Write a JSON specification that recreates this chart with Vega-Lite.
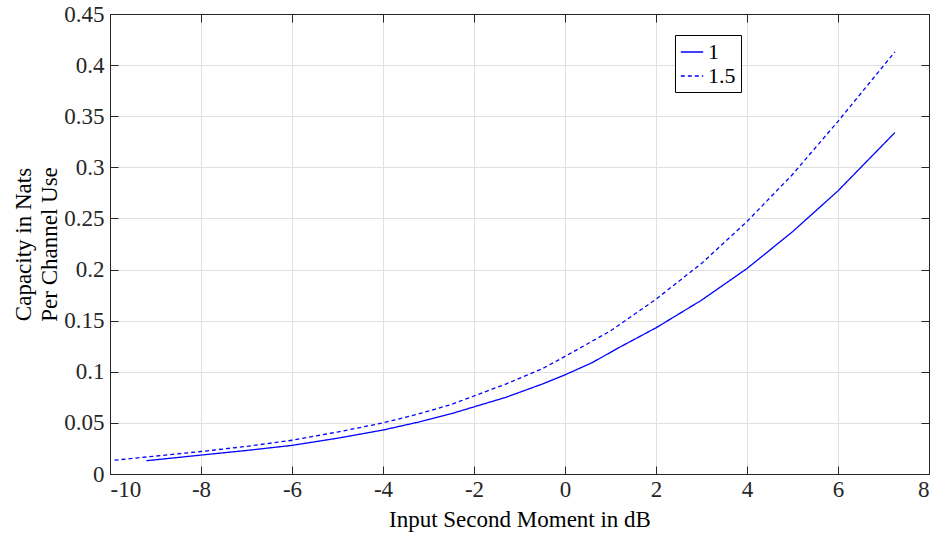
{
  "$schema": "https://vega.github.io/schema/vega-lite/v6.json",
  "width": 819,
  "height": 460,
  "autosize": {"type": "none"},
  "padding": {"left": 110, "top": 14, "right": 8, "bottom": 62},
  "background": "white",
  "config": {
    "font": "Liberation Serif",
    "view": {"stroke": "#262626", "strokeWidth": 1},
    "axis": {
      "titleFontWeight": "normal",
      "titleColor": "#000000",
      "domainColor": "#262626",
      "tickColor": "#262626",
      "gridColor": "#e0e0e0",
      "gridOpacity": 1
    }
  },
  "data": {
    "values": [
      {"x": -9.2, "y": 0.013, "s": "1"},
      {"x": -8, "y": 0.0185, "s": "1"},
      {"x": -7, "y": 0.023, "s": "1"},
      {"x": -6, "y": 0.028, "s": "1"},
      {"x": -5, "y": 0.035, "s": "1"},
      {"x": -4, "y": 0.043, "s": "1"},
      {"x": -3.2, "y": 0.051, "s": "1"},
      {"x": -2.5, "y": 0.059, "s": "1"},
      {"x": -1.3, "y": 0.075, "s": "1"},
      {"x": -0.5, "y": 0.088, "s": "1"},
      {"x": 0, "y": 0.097, "s": "1"},
      {"x": 0.6, "y": 0.109, "s": "1"},
      {"x": 1.2, "y": 0.124, "s": "1"},
      {"x": 2, "y": 0.143, "s": "1"},
      {"x": 3, "y": 0.170, "s": "1"},
      {"x": 4, "y": 0.201, "s": "1"},
      {"x": 5, "y": 0.237, "s": "1"},
      {"x": 6, "y": 0.277, "s": "1"},
      {"x": 7.25, "y": 0.334, "s": "1"},
      {"x": -9.9, "y": 0.0135, "s": "1.5"},
      {"x": -8, "y": 0.022, "s": "1.5"},
      {"x": -7, "y": 0.027, "s": "1.5"},
      {"x": -6, "y": 0.033, "s": "1.5"},
      {"x": -5, "y": 0.041, "s": "1.5"},
      {"x": -4, "y": 0.050, "s": "1.5"},
      {"x": -3.2, "y": 0.059, "s": "1.5"},
      {"x": -2.5, "y": 0.068, "s": "1.5"},
      {"x": -1.3, "y": 0.088, "s": "1.5"},
      {"x": -0.5, "y": 0.103, "s": "1.5"},
      {"x": 0, "y": 0.115, "s": "1.5"},
      {"x": 1, "y": 0.140, "s": "1.5"},
      {"x": 2, "y": 0.171, "s": "1.5"},
      {"x": 3, "y": 0.206, "s": "1.5"},
      {"x": 4, "y": 0.247, "s": "1.5"},
      {"x": 5, "y": 0.293, "s": "1.5"},
      {"x": 6, "y": 0.345, "s": "1.5"},
      {"x": 7.25, "y": 0.413, "s": "1.5"}
    ]
  },
  "layer": [
    {
      "mark": {"type": "line", "strokeWidth": 1.3, "clip": true},
      "encoding": {
        "x": {
          "field": "x", "type": "quantitative",
          "scale": {"domain": [-10, 8], "nice": false, "zero": false},
          "axis": {
            "values": [-10, -8, -6, -4, -2, 0, 2, 4, 6, 8],
            "labelExpr": "datum.value + ''",
            "labelFont": "Liberation Serif",
            "labelFontSize": 23,
            "labelColor": "#262626",
            "titleFont": "Liberation Serif",
            "titleFontSize": 23,
            "title": "Input Second Moment in dB",
            "tickSize": -8,
            "labelPadding": 12,
            "titlePadding": 7,
            "grid": true
          }
        },
        "y": {
          "field": "y", "type": "quantitative",
          "scale": {"domain": [0, 0.45], "nice": false},
          "axis": {
            "values": [0, 0.05, 0.1, 0.15, 0.2, 0.25, 0.3, 0.35, 0.4, 0.45],
            "format": ".2~f",
            "labelFont": "Liberation Serif",
            "labelFontSize": 23,
            "labelColor": "#262626",
            "titleFont": "Liberation Serif",
            "titleFontSize": 23,
            "title": ["Capacity in Nats", "Per Channel Use"],
            "titleLineHeight": 26,
            "tickSize": -8,
            "labelPadding": 14,
            "titlePadding": 2,
            "grid": true
          }
        },
        "color": {
          "field": "s", "type": "nominal",
          "scale": {"range": ["#0000ff", "#0000ff"]},
          "legend": {
            "title": null,
            "orient": "none",
            "legendX": 565,
            "legendY": 21,
            "symbolType": "stroke",
            "symbolSize": 500,
            "symbolStrokeWidth": 1.3,
            "labelFont": "Liberation Serif",
            "labelFontSize": 22,
            "labelColor": "#000000",
            "strokeColor": "#000000",
            "fillColor": "white",
            "padding": 5,
            "rowPadding": 1
          }
        },
        "strokeDash": {
          "field": "s", "type": "nominal",
          "scale": {"range": [[1, 0], [4, 3]]},
          "legend": {
            "title": null,
            "orient": "none",
            "legendX": 565,
            "legendY": 21,
            "symbolType": "stroke",
            "symbolSize": 500,
            "labelFont": "Liberation Serif",
            "labelFontSize": 22,
            "labelColor": "#000000",
            "strokeColor": "#000000",
            "fillColor": "white",
            "padding": 5,
            "rowPadding": 1
          }
        }
      }
    },
    {
      "mark": {"type": "point", "opacity": 0},
      "encoding": {
        "x": {
          "field": "x", "type": "quantitative",
          "scale": {"domain": [-10, 8], "nice": false, "zero": false},
          "axis": {
            "orient": "top",
            "values": [-10, -8, -6, -4, -2, 0, 2, 4, 6, 8],
            "labels": false,
            "title": null,
            "tickSize": -8,
            "grid": false
          }
        },
        "y": {
          "field": "y", "type": "quantitative",
          "scale": {"domain": [0, 0.45], "nice": false},
          "axis": {
            "orient": "right",
            "values": [0, 0.05, 0.1, 0.15, 0.2, 0.25, 0.3, 0.35, 0.4, 0.45],
            "labels": false,
            "title": null,
            "tickSize": -8,
            "grid": false
          }
        }
      }
    }
  ],
  "resolve": {"scale": {"x": "independent", "y": "independent"}, "axis": {"x": "independent", "y": "independent"}}
}
